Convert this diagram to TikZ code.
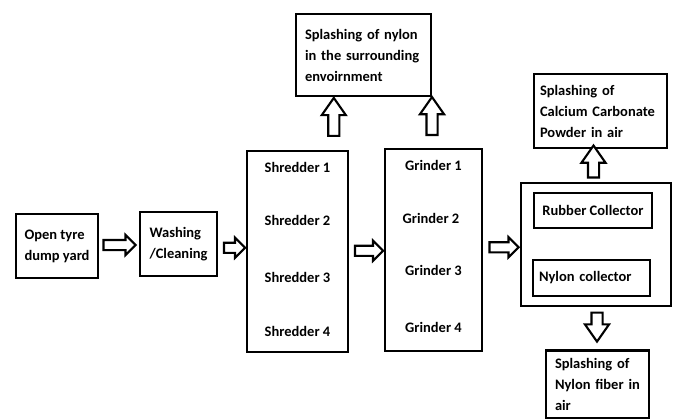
\documentclass[tikz,border=0pt]{standalone}
\usepackage{fontspec}
\setmainfont{Carlito}
\usetikzlibrary{shapes.arrows,calc}
\begin{document}
\begin{tikzpicture}[x=1pt,y=-1pt,
  every node/.style={font=\bfseries\fontsize{14.5}{21}\selectfont},
  box/.style={draw, line width=2.6pt, rectangle, inner sep=0pt},
  lbox/.style={box, align=left, inner xsep=#1},
  lbl/.style={inner sep=0pt},
  barrow/.style={single arrow, draw, line width=2.1pt, inner xsep=0pt, inner ysep=4pt,
    single arrow head extend=5pt, fill=white},
  varrow/.style={barrow, inner ysep=4.5pt, single arrow head extend=6.5pt, single arrow tip angle=70}]
\useasboundingbox (0,0) rectangle (675,418);
% boxes
\node[box, align=left, minimum width=82pt, minimum height=64pt] (open) at (57,246) {Open tyre\\dump yard};
\node[box, align=left, minimum width=77pt, minimum height=64pt] (wash) at (178.5,244) {Washing\\/Cleaning};
\node[box, minimum width=101pt, minimum height=201pt] (shred) at (297.5,251.5) {};
\node[lbl] (s1) at (297.5,167) {Shredder 1};
\node[lbl] (s2) at (297.5,220) {Shredder 2};
\node[lbl] (s3) at (297.5,277) {Shredder 3};
\node[lbl] (s4) at (297.5,331) {Shredder 4};
\node[box, minimum width=97pt, minimum height=202pt] (grind) at (433.5,250) {};
\node[lbl] (g1) at (433.5,165) {Grinder 1};
\node[lbl] (g2) at (431,218) {Grinder 2};
\node[lbl] (g3) at (433.5,270) {Grinder 3};
\node[lbl] (g4) at (433.5,327) {Grinder 4};
\node[lbox=9pt, text width=117pt, minimum width=135pt, minimum height=82pt] (splny) at (363.5,55) {Splashing of nylon\\in the surrounding\\envoirnment};
\node[box, minimum width=150pt, minimum height=123pt] (outer) at (596,244.5) {};
\node[box, minimum width=118pt, minimum height=35pt] (rub) at (593,210.5) {Rubber Collector};
\node[box, minimum width=117pt, minimum height=36pt, text width=105pt, align=left, inner xsep=6pt] (nyc) at (591.5,278) {Nylon collector};
\node[lbox=6pt, text width=121pt, minimum width=133pt, minimum height=74pt] (calc) at (600.5,111) {Splashing of\\Calcium Carbonate\\Powder in air};
\node[lbox=9pt, text width=85pt, minimum width=103pt, inner ysep=8pt, anchor=north] (splfib) at (597.5,349) {Splashing of\\Nylon fiber in\\air};
% block arrows
\node[barrow, minimum height=32pt] (a1) at ($(open.east)!.5!(wash.west)+(-2,0)$) {};
\node[barrow, minimum height=21pt] (a2) at ($(wash.east)!.5!(shred.west)$) {};
\node[barrow, minimum height=28pt] (a3) at ($(shred.east)!.5!(grind.west)$) {};
\node[barrow, minimum height=29pt] (a4) at ($(grind.east)!.5!(outer.west)$) {};
\node[varrow, rotate=90, minimum height=38pt] (u1) at ($(shred.north)!.55!(splny.south)$) {};
\node[varrow, rotate=90, minimum height=38pt] (u2) at ($(grind.north)!.55!(splny.south -| grind.north)+(-1.5,0)$) {};
\node[varrow, rotate=90, minimum height=32pt] (u3) at ($(outer.north)!.5!(outer.north |- calc.south)+(-2.5,0)$) {};
\node[varrow, rotate=-90, minimum height=29pt] (d1) at ($(outer.south)!.5!(outer.south |- splfib.north)+(1,-5)$) {};
\end{tikzpicture}
\end{document}
